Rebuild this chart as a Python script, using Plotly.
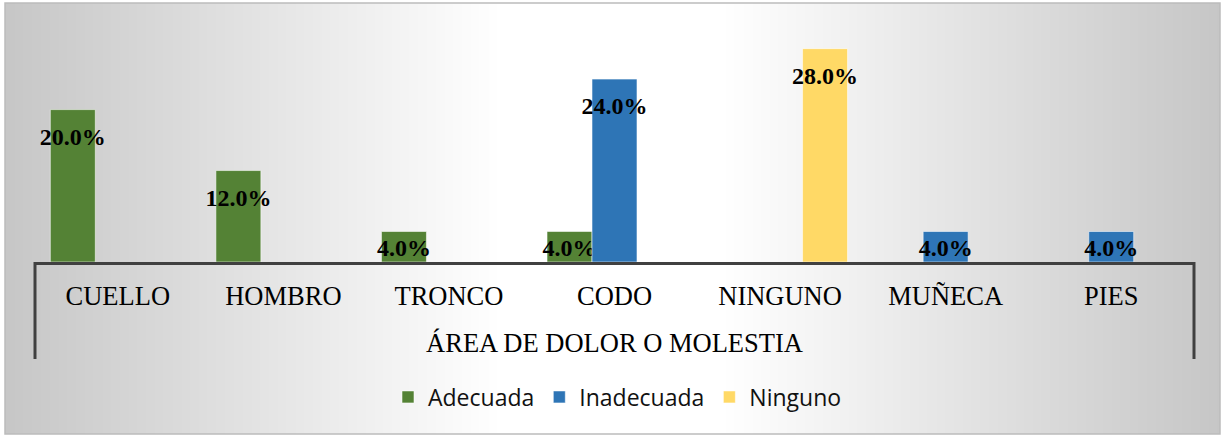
import numpy as np
import plotly.graph_objects as go

# Chart data (percent of respondents)
categories = ["CUELLO", "HOMBRO", "TRONCO", "CODO", "NINGUNO", "MUÑECA", "PIES"]
adecuada = [20.0, 12.0, 4.0, 4.0, None, None, None]
inadecuada = [None, None, None, 24.0, None, 4.0, 4.0]
ninguno = [None, None, None, None, 28.0, None, None]

series_names = ["Adecuada", "Inadecuada", "Ninguno"]
series_colors = ["#548235", "#2E75B6", "#FFD966"]
axis_title = "ÁREA DE DOLOR O MOLESTIA"

W, H = 1223, 437

fig = go.Figure()

# Soft backdrop shading: white in the middle, grey towards the left/right edges
px = np.linspace(5, 1220, 300)
shade = 255 - 57 * np.clip((np.abs(px - 611) - 110) / 500, 0, 1)
fig.add_trace(go.Heatmap(
    x=px, y=[0, 1], z=[shade, shade],
    colorscale=[[0, "rgb(0,0,0)"], [1, "rgb(255,255,255)"]],
    zmin=0, zmax=255, zsmooth="best", showscale=False, hoverinfo="skip",
    xaxis="x", yaxis="y",
))

# Labels sit a little below the top of tall bars; short bars keep them flush
LABEL = "%{y:.1f}%"
PADDED = "<span style='font-size:1px'>&nbsp;</span><br>" + LABEL


def label_templates(vals):
    return [PADDED if (v is not None and v >= 8) else LABEL for v in vals]


for name, vals, color in zip(series_names, [adecuada, inadecuada, ninguno], series_colors):
    fig.add_trace(go.Bar(
        name=name, x=categories, y=vals,
        marker=dict(color=color, line=dict(color="rgba(255,255,255,0.55)", width=1)),
        texttemplate=label_templates(vals), textposition="inside", insidetextanchor="end",
        textangle=0, constraintext="none",
        insidetextfont=dict(family="Liberation Serif", size=24, color="black", weight="bold"),
        xaxis="x2", yaxis="y2",
    ))

fig.update_layout(
    width=W, height=H, autosize=False,
    margin=dict(l=0, r=0, t=0, b=0),
    paper_bgcolor="white", plot_bgcolor="rgba(0,0,0,0)",
    barmode="group", bargap=0.185, bargroupgap=0,
    xaxis=dict(domain=[5 / W, 1220 / W], range=[5, 1220], visible=False, fixedrange=True),
    yaxis=dict(domain=[3 / H, 434 / H], range=[0, 1], visible=False, fixedrange=True),
    xaxis2=dict(
        domain=[35 / W, 1194 / W], anchor="y2",
        showline=True, linecolor="#404040", linewidth=3,
        showgrid=False, zeroline=False, ticks="",
        tickfont=dict(family="Liberation Serif", size=26.5, color="black"),
        ticklabelstandoff=8,
        title=dict(text=axis_title, standoff=24,
                   font=dict(family="Liberation Serif", size=26.5, color="black")),
    ),
    yaxis2=dict(
        domain=[(H - 262) / H, (H - 33.4) / H], anchor="x2",
        range=[0, 30], visible=False,
    ),
    legend=dict(
        orientation="h", x=0.5 + 6 / W, xanchor="center", y=(H - 397) / H, yanchor="middle",
        bgcolor="rgba(0,0,0,0)", font=dict(family="Open Sans", size=23, color="#111111"),
        traceorder="normal",
    ),
    showlegend=True,
    shapes=[
        # outer chart border
        dict(type="rect", xref="paper", yref="paper", x0=5 / W, x1=1220 / W,
             y0=3 / H, y1=434 / H, line=dict(color="#bcbcbc", width=1.5), layer="above"),
        # legend panel
        dict(type="rect", xref="paper", yref="paper", x0=367 / W, x1=856 / W,
             y0=(H - 421) / H, y1=(H - 373) / H, line=dict(width=0),
             fillcolor="rgba(248,248,248,0.9)", layer="below"),
        # category axis end brackets
        dict(type="line", xref="x2 domain", yref="paper", x0=0, x1=0,
             y0=(H - 262) / H, y1=(H - 359) / H, line=dict(color="#404040", width=3)),
        dict(type="line", xref="x2 domain", yref="paper", x0=1, x1=1,
             y0=(H - 262) / H, y1=(H - 359) / H, line=dict(color="#404040", width=3)),
    ],
)

fig.write_html("out.html")
